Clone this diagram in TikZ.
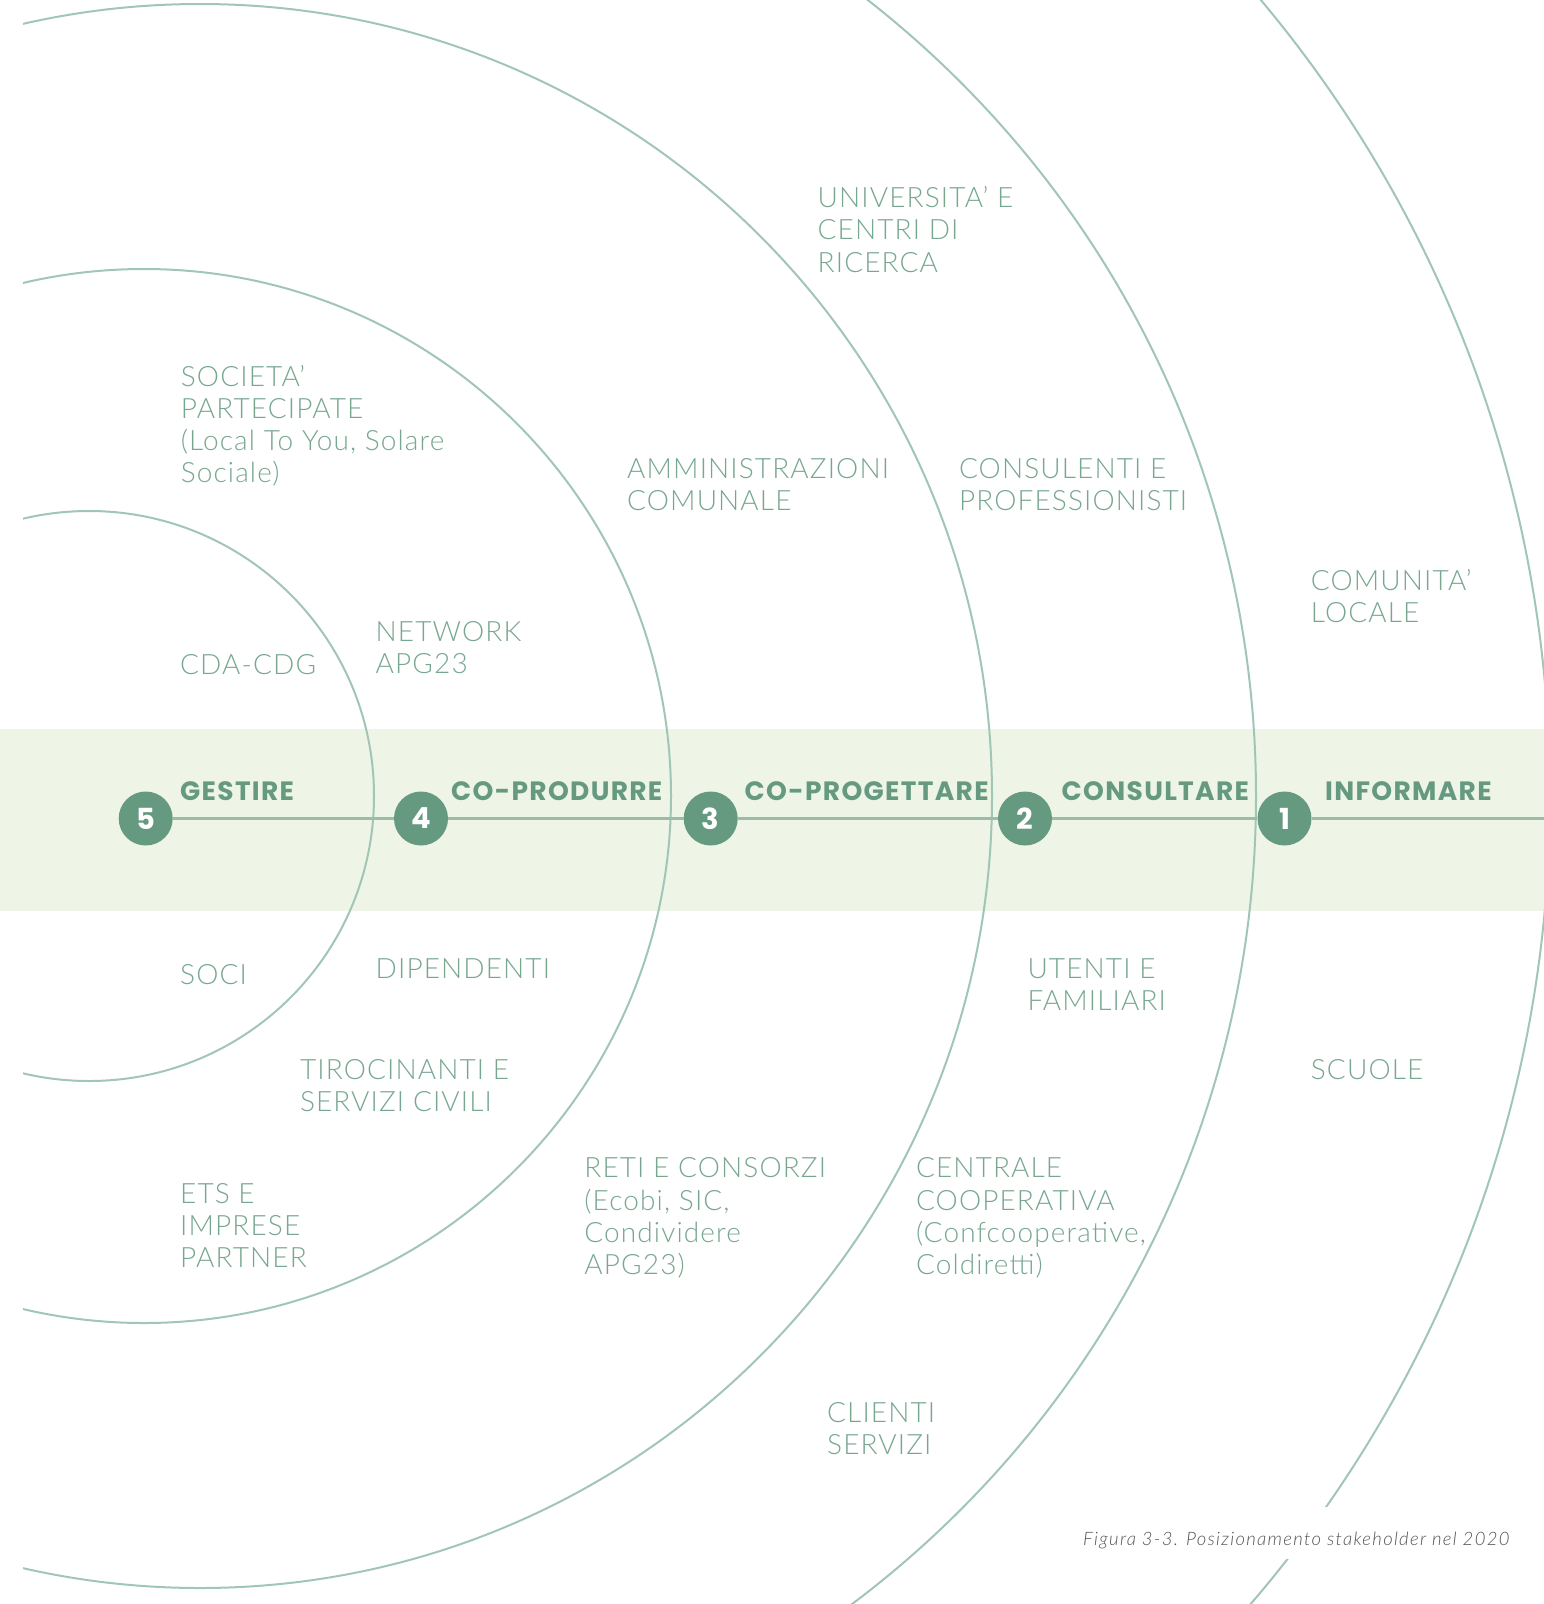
\documentclass[tikz,border=0pt]{standalone}
\usepackage{fontspec}
\newfontfamily\lightfont{Lato Light}[LetterSpace=4]
\newfontfamily\captionfont{Lato Light}[LetterSpace=7]
\newfontfamily\headfont{Poppins}[LetterSpace=5]
\newfontfamily\numfont{Poppins}
\definecolor{ringc}{HTML}{A2C6B6}
\definecolor{axisc}{HTML}{98BEA9}
\definecolor{badgec}{HTML}{659A80}
\definecolor{labelc}{HTML}{78A790}
\definecolor{bandc}{HTML}{EEF4E6}
\definecolor{captionc}{HTML}{555555}
\begin{document}
\begin{tikzpicture}[x=1pt,y=-1pt,
  ring/.style={draw=ringc,line width=2pt},
  axis/.style={draw=axisc,line width=3pt},
  badge/.style={circle,fill=badgec,minimum size=54pt,inner sep=0pt,text=white,
    font=\numfont\bfseries\fontsize{29}{30}\selectfont},
  stage/.style={anchor=base west,inner sep=0pt,text=badgec,
    font=\headfont\bfseries\fontsize{26.5}{30}\selectfont},
  lbl/.style={anchor=base west,inner sep=0pt,text=labelc,
    font=\lightfont\fontsize{28}{32.3}\selectfont},
  caption/.style={anchor=base west,inner ysep=0pt,inner xsep=10pt,fill=white,
    text height=38pt,text depth=14pt,text=captionc,
    font=\captionfont\itshape\fontsize{18.5}{20}\selectfont}]
\useasboundingbox (0,0) rectangle (1544,1604);
\fill[white] (0,0) rectangle (1544,1604);
% central band
\fill[bandc] (0,729) rectangle (1544,911);
% concentric rings
\begin{scope}
  \clip (23,-5) rectangle (1550,1610);
  \draw[ring] (89,796) circle[radius=285];
  \draw[ring] (144,796) circle[radius=527];
  \draw[ring] (200,796) circle[radius=792];
  \draw[ring] (246,796) circle[radius=1010];
  \draw[ring] (310,796) circle[radius=1240];
\end{scope}
% level badges
\node[badge] (b5) at (145.7,818.5) {5};
\node[badge] (b4) at (421,818.5) {4};
\node[badge] (b3) at (710.7,818.5) {3};
\node[badge] (b2) at (1025,818.5) {2};
\node[badge] (b1) at (1284.5,818.5) {1};
\coordinate (axisend) at (1544,818.5);
\draw[axis] (b5) -- (b4);
\draw[axis] (b4) -- (b3);
\draw[axis] (b3) -- (b2);
\draw[axis] (b2) -- (b1);
\draw[axis] (b1) -- (axisend);
% level names
\node[stage] (s5) at (180,800) {GESTIRE};
\node[stage] (s4) at (451,800) {CO-PRODURRE};
\node[stage] (s3) at (744.5,800) {CO-PROGETTARE};
\node[stage] (s2) at (1061.5,800) {CONSULTARE};
\node[stage] (s1) at (1325,800) {INFORMARE};
% stakeholders
\node[lbl] (uni) at (817.5,207.5) {\vtop{\hbox{UNIVERSITA’ E}\hbox{CENTRI DI}\hbox{RICERCA}}};
\node[lbl] (soc) at (180.7,386) {\vtop{\hbox{SOCIETA’}\hbox{PARTECIPATE}\hbox{(Local To You, Solare}\hbox{Sociale)}}};
\node[lbl] (amm) at (627,478) {\vtop{\hbox{AMMINISTRAZIONI}\hbox{COMUNALE}}};
\node[lbl] (cons) at (958.8,478) {\vtop{\hbox{CONSULENTI E}\hbox{PROFESSIONISTI}}};
\node[lbl] (com) at (1310.7,590) {\vtop{\hbox{COMUNITA’}\hbox{LOCALE}}};
\node[lbl] (net) at (375.5,641.5) {\vtop{\hbox{NETWORK}\hbox{APG23}}};
\node[lbl] (cda) at (180,674) {CDA-CDG};
\node[lbl] (soci) at (180,984) {SOCI};
\node[lbl] (dip) at (375.5,978) {DIPENDENTI};
\node[lbl] (ute) at (1027.3,978) {\vtop{\hbox{UTENTI E}\hbox{FAMILIARI}}};
\node[lbl] (tir) at (299.8,1079.5) {\vtop{\hbox{TIROCINANTI E}\hbox{SERVIZI CIVILI}}};
\node[lbl] (scu) at (1310.7,1079.5) {SCUOLE};
\node[lbl] (ret) at (584.2,1177.7) {\vtop{\hbox{RETI E CONSORZI}\hbox{(Ecobi, SIC,}\hbox{Condividere}\hbox{APG23)}}};
\node[lbl] (cen) at (915.8,1177.7) {\vtop{\hbox{CENTRALE}\hbox{COOPERATIVA}\hbox{(Confcooperative,}\hbox{Coldiretti)}}};
\node[lbl] (ets) at (180,1203.3) {\vtop{\hbox{ETS E}\hbox{IMPRESE}\hbox{PARTNER}}};
\node[lbl] (cli) at (827,1422.3) {\vtop{\hbox{CLIENTI}\hbox{SERVIZI}}};
% caption
\node[caption] (cap) at (1073,1545) {Figura 3-3. Posizionamento stakeholder nel 2020};
\end{tikzpicture}
\end{document}
